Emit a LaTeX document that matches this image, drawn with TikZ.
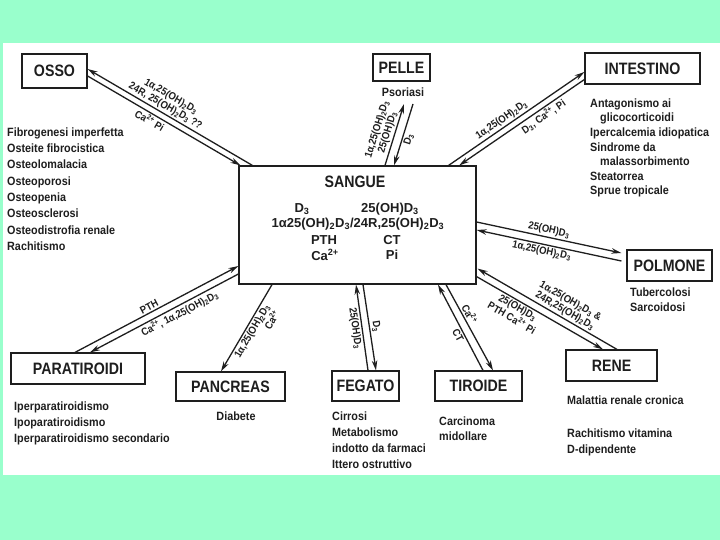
\documentclass[tikz,border=0pt]{standalone}
\usepackage{fontspec}
\setmainfont{Liberation Sans}
\newfontfamily\titfont{Liberation Sans}[FakeStretch=0.86]
\newfontfamily\txtfont{Liberation Sans}[FakeStretch=0.9]
\usetikzlibrary{arrows.meta}
\definecolor{menta}{HTML}{99FFCC}
\definecolor{ink}{HTML}{1E1E1E}
\newcommand{\dtre}{D\textsubscript{3}}
\newcommand{\ohd}{25(OH)D\textsubscript{3}}
\newcommand{\diohd}{1α,25(OH)\textsubscript{2}D\textsubscript{3}}
\newcommand{\calcio}{Ca\textsuperscript{2+}}

\begin{document}
\begin{tikzpicture}[x=1pt,y=-1pt,
    organ/.style={draw=ink,line width=1.2pt,fill=white,inner sep=0pt,text=ink,font=\titfont\bfseries\fontsize{16.5}{16.5}\selectfont},
    sg/.style={inner sep=0pt,text=ink,font=\bfseries\fontsize{13}{15}\selectfont},
    lista/.style={anchor=north west,align=left,inner sep=0pt,text=ink,font=\txtfont\bfseries\fontsize{12}{#1}\selectfont},
    lista/.default=16.3,
    link/.style={draw=ink,line width=1.3pt},
    lab/.style={sloped,inner sep=1.5pt,text=ink,font=\txtfont\bfseries\fontsize{10.5}{11}\selectfont},
    >={Stealth[length=10pt,width=5.5pt]}]
    \useasboundingbox (0,0) rectangle (720,540);
    \fill[menta](0,0)rectangle(720,540);
    \fill[white](3,43)rectangle(720,475);

    \node[organ,minimum width=65pt,minimum height=34pt](osso)at(54.5,71){OSSO};
    \node[organ,minimum width=57pt,minimum height=27pt](pelle)at(401.5,67.5){PELLE};
    \node[organ,minimum width=115pt,minimum height=31pt](intestino)at(642.5,68.5){INTESTINO};
    \node[organ,minimum width=237pt,minimum height=118pt](sangue)at(357.5,225){};
    \node[organ,minimum width=85pt,minimum height=31pt](polmone)at(669.5,265.5){POLMONE};
    \node[organ,minimum width=91pt,minimum height=31pt](rene)at(611.5,365.5){RENE};
    \node[organ,minimum width=87pt,minimum height=30pt](tiroide)at(478.5,386){TIROIDE};
    \node[organ,minimum width=67pt,minimum height=30pt](fegato)at(365.5,386){FEGATO};
    \node[organ,minimum width=109pt,minimum height=29pt](pancreas)at(230.5,386.5){PANCREAS};
    \node[organ,minimum width=134pt,minimum height=31pt](paratiroidi)at(78,368.5){PARATIROIDI};

    \node[sg,font=\titfont\bfseries\fontsize{16.5}{16.5}\selectfont](sgtit)at(355,182){SANGUE};
    \node[sg](sgd)at(302,209){\dtre};
    \node[sg](sgohd)at(390,209){\ohd};
    \node[sg](sgdi)at(358,224){1α25(OH)\textsubscript{2}D\textsubscript{3}/24R,25(OH)\textsubscript{2}D\textsubscript{3}};
    \node[sg](sgpth)at(324,240){PTH};
    \node[sg](sgct)at(392,240){CT};
    \node[sg](sgca)at(325,255){\calcio};
    \node[sg](sgpi)at(392,255){Pi};

    \node[lista](ossolist)at(7,127.5){Fibrogenesi imperfetta\\Osteite fibrocistica\\Osteolomalacia\\Osteoporosi\\Osteopenia\\Osteosclerosi\\Osteodistrofia renale\\Rachitismo};
    \node[lista=14.6](intlist)at(590,98.5){Antagonismo ai\\\hspace*{10pt}glicocorticoidi\\Ipercalcemia idiopatica\\Sindrome da\\\hspace*{10pt}malassorbimento\\Steatorrea\\Sprue tropicale};
    \node[lista=15.5](polist)at(630,287.5){Tubercolosi\\Sarcoidosi};
    \node[lista=16.5](renlist)at(567,395.5){Malattia renale cronica\\[16.5pt]Rachitismo vitamina\\D-dipendente};
    \node[lista=15.5](tirlist)at(439,416.5){Carcinoma\\midollare};
    \node[lista=16](feglist)at(332,411.5){Cirrosi\\Metabolismo\\indotto da farmaci\\Ittero ostruttivo};
    \node[lista,anchor=center](panlist)at(236,416){Diabete};
    \node[lista=16](parlist)at(14,401.5){Iperparatiroidismo\\Ipoparatiroidismo\\Iperparatiroidismo secondario};
    \node[lista,anchor=center](pellist)at(403,92){Psoriasi};

    \coordinate(pel1)at(404,104);
    \coordinate(pel2)at(413,104);

    \draw[link,->]([shift={(14,0)}]sangue.north west)--([shift={(0,-2)}]osso.east)node[lab,above,pos=0.55,align=center]{\diohd\\24R, 25(OH)\textsubscript{2}D\textsubscript{3} ??};
    \draw[link,<-]([shift={(2,0)}]sangue.north west)--([shift={(0,5)}]osso.east)node[lab,below,pos=0.57]{\calcio{} Pi};

    \draw[link,->]([shift={(27.5,0)}]sangue.north)--(pel1)node[lab,above,pos=0.5,align=center]{\diohd\\\ohd};
    \draw[link,<-]([shift={(36.5,0)}]sangue.north)--(pel2)node[lab,below,pos=0.45]{\dtre};

    \draw[link,->]([shift={(-28,0)}]sangue.north east)--([shift={(0,3.5)}]intestino.west)node[lab,above,pos=0.42]{\diohd};
    \draw[link,<-]([shift={(-17.4,0)}]sangue.north east)--([shift={(0,11)}]intestino.west)node[lab,below,pos=0.64]{\dtre, \calcio, Pi};

    \draw[link,->]([shift={(0,-3)}]sangue.east)--([shift={(-5,-12.5)}]polmone.west)node[lab,above,pos=0.49]{\ohd};
    \draw[link,<-]([shift={(0,5)}]sangue.east)--([shift={(-5,-4.5)}]polmone.west)node[lab,below,pos=0.46]{\diohd};

    \draw[link,<-]([shift={(1,-16)}]sangue.south east)--([shift={(5.5,0)}]rene.north)node[lab,above,pos=0.6,align=center]{\diohd{} \&\\24R,25(OH)\textsubscript{2}D\textsubscript{3}};
    \draw[link,->]([shift={(0,-8)}]sangue.south east)--([shift={(-8.5,0)}]rene.north)node[lab,below,pos=0.35,align=center]{\ohd\\PTH \calcio{} Pi};

    \draw[link,<-]([shift={(80.5,0)}]sangue.south)--([shift={(4.5,0)}]tiroide.north)node[lab,below,pos=0.56]{CT};
    \draw[link,->]([shift={(88.5,0)}]sangue.south)--([shift={(14.5,0)}]tiroide.north)node[lab,above,pos=0.38]{\calcio};

    \draw[link,<-]([shift={(-1.5,0)}]sangue.south)--([shift={(2.5,0)}]fegato.north)node[lab,below,pos=0.5]{\ohd};
    \draw[link,->]([shift={(5.5,0)}]sangue.south)--([shift={(10.5,0)}]fegato.north)node[lab,above,pos=0.5]{\dtre};

    \draw[link,->]([shift={(-85.5,0)}]sangue.south)--([shift={(-9.5,0)}]pancreas.north)node[lab,below,pos=0.5,align=right]{\diohd\\\calcio};

    \draw[link,<-]([shift={(0,41)}]sangue.west)--([shift={(-3,0)}]paratiroidi.north)node[lab,above,pos=0.53]{PTH};
    \draw[link,->]([shift={(0,49)}]sangue.west)--([shift={(12,0)}]paratiroidi.north)node[lab,below,pos=0.42]{\calcio, \diohd};
\end{tikzpicture}
\end{document}
